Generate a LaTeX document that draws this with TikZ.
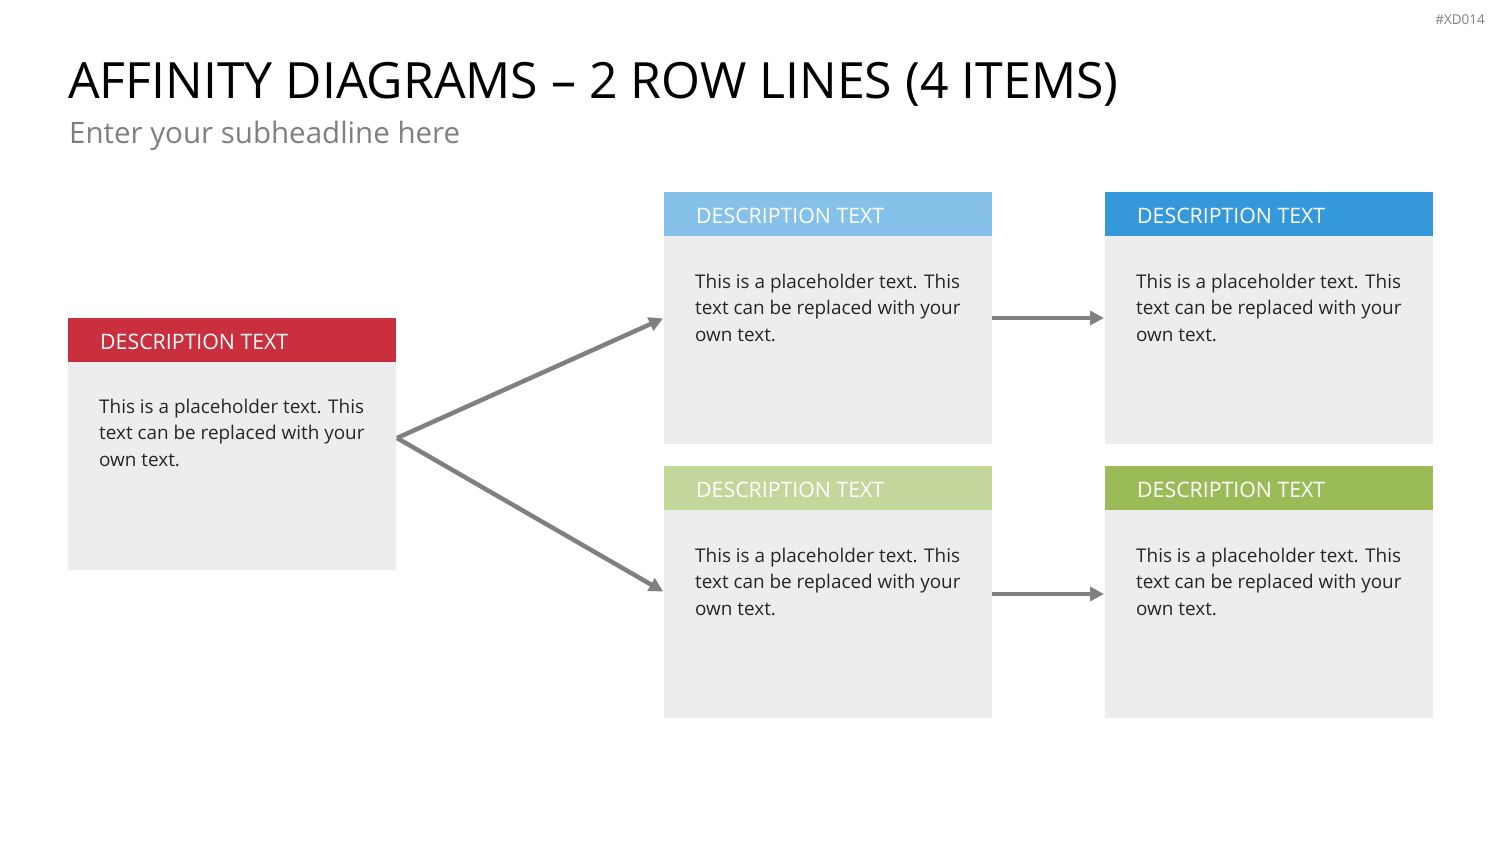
\documentclass[tikz,border=0pt]{standalone}
\usepackage{fontspec}
\setmainfont{Open Sans}
\usetikzlibrary{arrows.meta}
\definecolor{cred}{HTML}{C92F3D}
\definecolor{clblue}{HTML}{85C1E9}
\definecolor{cblue}{HTML}{3498DB}
\definecolor{clgreen}{HTML}{C3D69B}
\definecolor{cgreen}{HTML}{9BBB59}
\definecolor{cbody}{HTML}{EDEDED}
\definecolor{carrow}{HTML}{808080}
\definecolor{csub}{HTML}{7F7F7F}
\tikzset{
  card/.style={fill=cbody, draw=none, minimum width=328pt, minimum height=252pt, inner sep=0pt, outer sep=0pt},
  head/.style={fill=#1, draw=none, minimum width=328pt, minimum height=44pt, inner sep=0pt, outer sep=0pt},
  headtxt/.style={anchor=base west, inner sep=0pt, text=white, font=\fontsize{21.3}{25}\selectfont},
  bodytxt/.style={anchor=base west, inner sep=0pt, align=left, text=black!85, font=\fontsize{18.9}{26.5}\selectfont},
  conn/.style={draw=carrow, line width=4.5pt, -{Triangle[length=14pt,width=14pt]}, shorten >=1pt},
}
\begin{document}
\begin{tikzpicture}[x=1pt,y=-1pt]
\useasboundingbox (0,0) rectangle (1500,844);
% title
\node[anchor=east, inner sep=0pt, text=csub, font=\fontsize{13.5}{15}\selectfont] (tag) at (1485,20) {\#XD014};
\node[anchor=base west, inner sep=0pt, font=\fontsize{50}{54}\selectfont] (title) at (68,98) {AFFINITY DIAGRAMS – 2 ROW LINES (4 ITEMS)};
\node[anchor=base west, inner sep=0pt, text=csub, font=\fontsize{29.5}{34}\selectfont] (sub) at (69,143) {Enter your subheadline here};

\newcommand{\placeholder}{This is a placeholder text. This\\text can be replaced with your\\own text.}

% cards
\node[card] (L) at (232,444) {};
\node[head=cred, anchor=north] (Lh) at (L.north) {};
\node[headtxt] (Lt) at (100,349) {DESCRIPTION TEXT};
\node[bodytxt] (Lb) at (99,466) {\placeholder};

\node[card] (TM) at (828,318) {};
\node[head=clblue, anchor=north] (TMh) at (TM.north) {};
\node[headtxt] (TMt) at (696,223) {DESCRIPTION TEXT};
\node[bodytxt] (TMb) at (695,341) {\placeholder};

\node[card] (TR) at (1269,318) {};
\node[head=cblue, anchor=north] (TRh) at (TR.north) {};
\node[headtxt] (TRt) at (1137,223) {DESCRIPTION TEXT};
\node[bodytxt] (TRb) at (1136,341) {\placeholder};

\node[card] (BM) at (828,592) {};
\node[head=clgreen, anchor=north] (BMh) at (BM.north) {};
\node[headtxt] (BMt) at (696,497) {DESCRIPTION TEXT};
\node[bodytxt] (BMb) at (695,615) {\placeholder};

\node[card] (BR) at (1269,592) {};
\node[head=cgreen, anchor=north] (BRh) at (BR.north) {};
\node[headtxt] (BRt) at (1137,497) {DESCRIPTION TEXT};
\node[bodytxt] (BRb) at (1136,615) {\placeholder};

% connectors
\coordinate (src) at ([xshift=1pt,yshift=6pt]L.east);
\draw[conn] (src) -- (TM.west);
\draw[conn] (src) -- (BM.west);
\draw[conn] (TM.east) -- (TR.west);
\draw[conn] ([yshift=-2pt]BM.east) -- ([yshift=-2pt]BR.west);
\end{tikzpicture}
\end{document}
